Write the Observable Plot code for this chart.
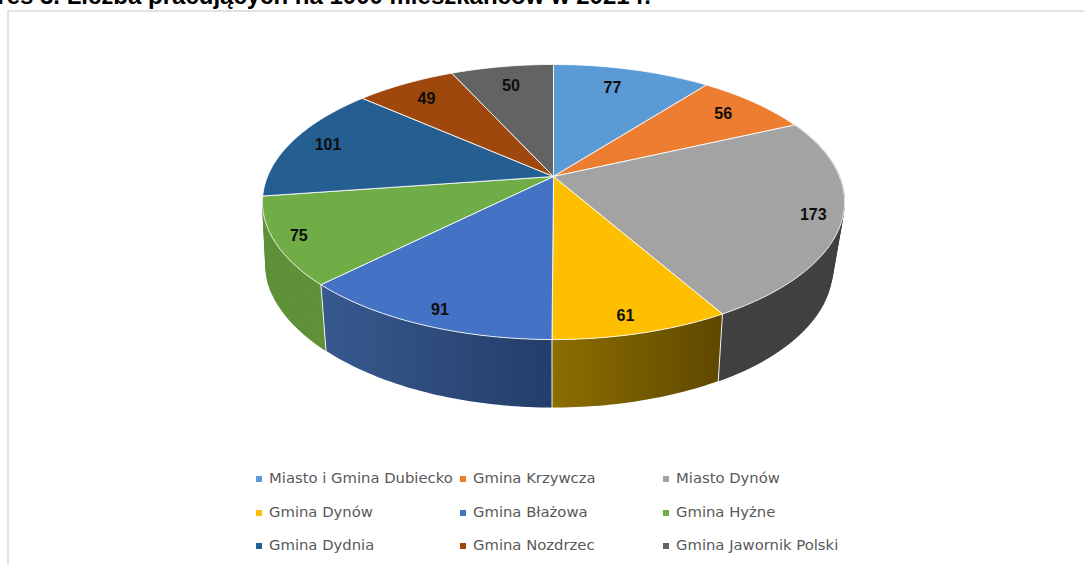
<!DOCTYPE html>
<html lang="pl">
<head>
<meta charset="utf-8">
<script src="https://cdn.jsdelivr.net/npm/d3@7"></script>
<script src="https://cdn.jsdelivr.net/npm/@observablehq/plot@0.6"></script>
<style>
html,body{margin:0;padding:0;background:#fff;}
#page{position:relative;width:1084px;height:565px;overflow:hidden;background:#fff;}
#title{position:absolute;right:433px;top:-16px;white-space:nowrap;font:bold 24px "Liberation Sans",Arial,sans-serif;line-height:24px;color:#000;}
#frame{position:absolute;left:7px;top:10px;width:1200px;height:700px;border:2px solid #e2e2e2;box-sizing:border-box;}
#chart{position:absolute;left:0;top:0;}
#legend{position:absolute;left:0;top:0;width:1084px;height:565px;font:14.8px "DejaVu Sans",sans-serif;color:#595959;}
.item{position:absolute;white-space:nowrap;line-height:18px;transform:translateY(-50%);}
.sw{display:inline-block;width:6px;height:6px;margin-right:7px;vertical-align:1px;}
</style>
</head>
<body>
<div id="page">
  <div id="frame"></div>
  <div id="title"></div>
  <div id="chart"></div>
  <div id="legend"></div>
</div>
<script>
const titleText = "Wykres 3. Liczba pracujących na 1000 mieszkańców w 2021 r.";
const names = ["Miasto i Gmina Dubiecko","Gmina Krzywcza","Miasto Dynów","Gmina Dynów","Gmina Błażowa","Gmina Hyżne","Gmina Dydnia","Gmina Nozdrzec","Gmina Jawornik Polski"];
const values = [77,56,173,61,91,75,101,49,50];
const colors = ["#5b9bd5","#ed7d31","#a3a3a3","#fdbf00","#4472c4","#70ad47","#255e91","#9e480e","#636363"];
const wallFills = ["none","none","#414141","url(#wallGold)","url(#wallBlue)","#5f9139","none","none","none"];
const labelReach = [0.80,0.83,0.905,0.905,0.91,0.92,0.86,0.82,0.80];
const labelTurn = [-1.8,0,0,1.3,-1,0,0,-0.8,0];

// perspective of the tilted disc (camera of the 3-D pie)
const cx = 553, cy = 176, R = 286, S = 132.8, k = 0.1855;
const rim = 339.3, rimDrop = 68, bottomX = 0.975, bottomY = 1.035, lean = 4;
const H = 460;
const top3d = (r, deg) => {
  const a = deg * Math.PI / 180, u = r * Math.sin(a), v = r * Math.cos(a), w = 1 + k * v;
  return {x: cx + R * u / w, y: cy - S * v / w};
};
const low3d = p => ({
  x: cx + bottomX * (p.x - cx) - lean * Math.max(0, Math.min(1, (300 - p.y) / 80)),
  y: rim + rimDrop + bottomY * (p.y - rim)
});

const total = d3.sum(values);
const cum = d3.cumsum(values);
const slices = names.map((name, i) => {
  const end = cum[i] / total * 360, start = end - values[i] / total * 360;
  const arc = d3.range(start, end, 1).concat(end).map(d => top3d(1, d));
  return {name, i, start, end, mid: (start + end) / 2, arc};
});
const facePoints = slices.flatMap(s =>
  [top3d(0, 0), ...s.arc, top3d(0, 0)].map(p => ({...p, name: s.name})));
const labels = slices.map(s => ({...top3d(labelReach[s.i], s.mid + labelTurn[s.i]), text: String(values[s.i])}));

const gradient = (id, c1, c2) =>
  `<linearGradient id="${id}" x1="0" x2="1" y1="0" y2="0"><stop offset="0" stop-color="${c1}"/><stop offset="1" stop-color="${c2}"/></linearGradient>`;
const defsMark = () => {
  const g = document.createElementNS("http://www.w3.org/2000/svg", "defs");
  g.innerHTML = gradient("wallGold", "#8c6e00", "#5f4800") + gradient("wallBlue", "#38598f", "#243d69");
  return g;
};

const front = slices.filter(s => wallFills[s.i] !== "none");
// one band for the gradient, plus narrow strips so the wall reaches its silhouette at the sides
const wallMarks = front.flatMap(s => {
  const fill = wallFills[s.i];
  const band = Plot.line([...s.arc, ...s.arc.slice().reverse().map(low3d)],
    {x: "x", y: "y", fill, stroke: "none"});
  if (fill.startsWith("url")) return [band];
  const strips = d3.pairs(s.arc).flatMap(([a, b], j) =>
    [a, b, low3d(b), low3d(a)].map(p => ({...p, strip: j})));
  return [band, Plot.line(strips, {x: "x", y: "y", z: "strip", fill, stroke: fill, strokeWidth: 0.5})];
});
const seams = slices.filter(s => [3, 4, 5].includes(s.i))
  .flatMap(s => [s.arc[0], low3d(s.arc[0])].map(p => ({...p, name: s.name})));

const plot = Plot.plot({
  width: 1084, height: H,
  margin: 0,
  x: {domain: [0, 1084], range: [0, 1084], axis: null},
  y: {domain: [0, H], range: [0, H], axis: null},
  color: {domain: names, range: colors},
  style: {background: "transparent", overflow: "visible"},
  marks: [
    defsMark,
    ...wallMarks,
    Plot.line(seams, {x: "x", y: "y", z: "name", stroke: "#f2f2f2", strokeWidth: 1}),
    Plot.line(facePoints, {x: "x", y: "y", z: "name", fill: "name", stroke: "#ffffff", strokeWidth: 1, strokeOpacity: 0.85}),
    Plot.text(labels, {x: "x", y: "y", text: "text", fontSize: 16, fontWeight: "bold", fontFamily: "Liberation Sans, Arial, sans-serif", fill: "#0d0d0d", textAnchor: "middle"})
  ]
});
document.getElementById("chart").appendChild(plot);

document.getElementById("title").textContent = titleText;

const legendCols = [256, 460, 663], legendRows = [478, 512, 545];
const legend = document.getElementById("legend");
names.forEach((n, i) => {
  const el = document.createElement("div");
  el.className = "item";
  el.style.left = legendCols[i % 3] + "px";
  el.style.top = legendRows[Math.floor(i / 3)] + "px";
  const sw = document.createElement("span");
  sw.className = "sw";
  sw.style.background = colors[i];
  el.appendChild(sw);
  el.appendChild(document.createTextNode(n));
  legend.appendChild(el);
});
</script>
</body>
</html>
